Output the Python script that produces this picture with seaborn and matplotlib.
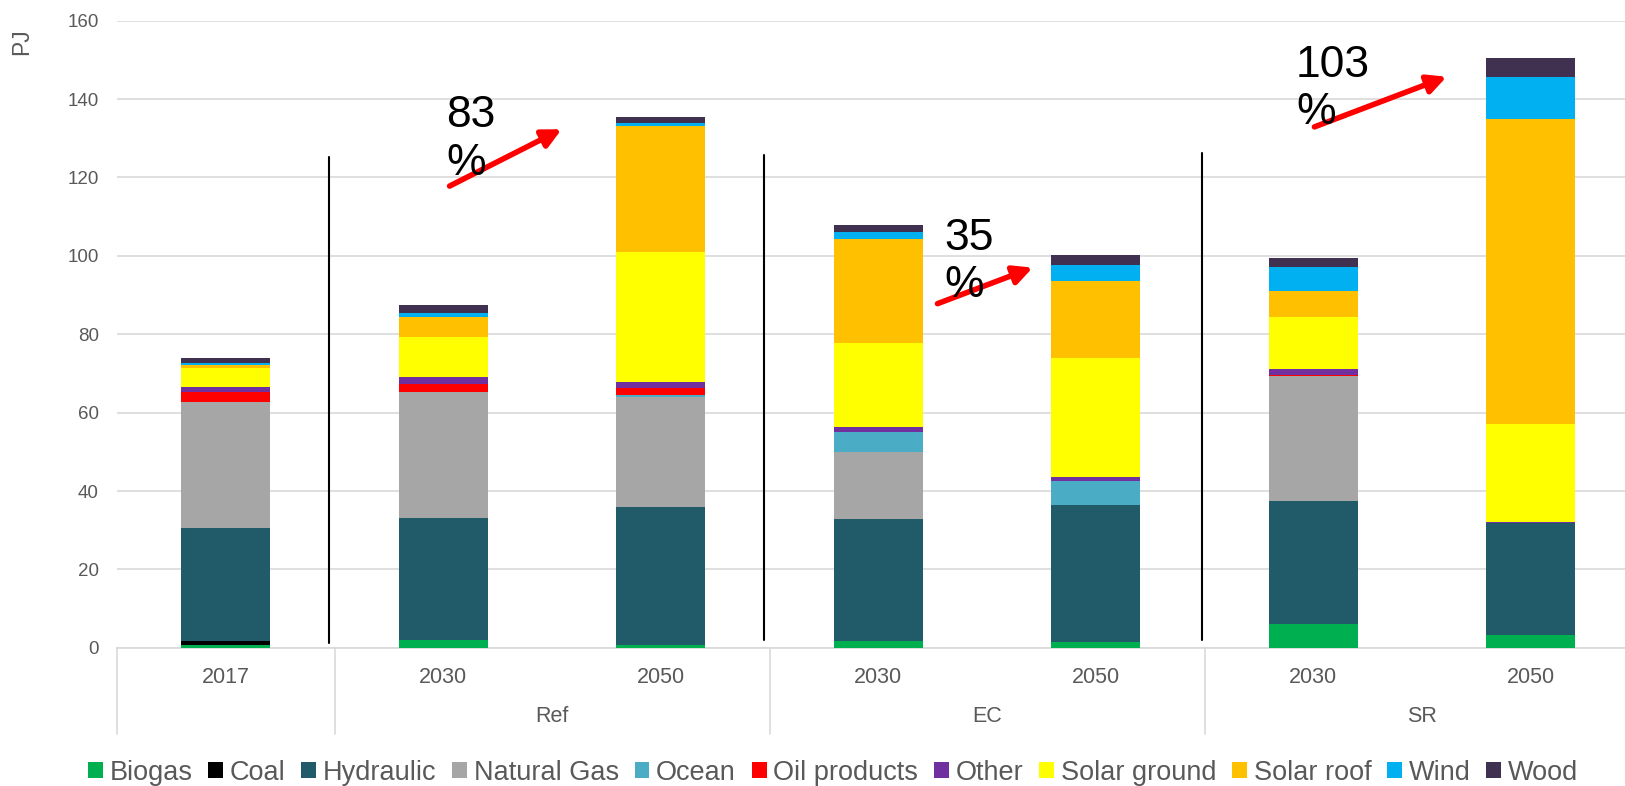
import numpy as np
import pandas as pd
import matplotlib
matplotlib.use("Agg")
import matplotlib.pyplot as plt
import matplotlib.transforms as mtransforms
from matplotlib.patches import Patch
import seaborn as sns

# ---------------- data ----------------
categories = ["2017", "Ref 2030", "Ref 2050", "EC 2030", "EC 2050", "SR 2030", "SR 2050"]
year_labels = ["2017", "2030", "2050", "2030", "2050", "2030", "2050"]
scenario_labels = ["Ref", "EC", "SR"]
scenario_centers = [1.5, 3.5, 5.5]

series_names = ["Biogas", "Coal", "Hydraulic", "Natural Gas", "Ocean", "Oil products",
                "Other", "Solar ground", "Solar roof", "Wind", "Wood"]
biogas       = [0.8, 2.1, 0.7, 1.8, 1.4, 6.0, 3.2]
coal         = [1.0, 0.0, 0.0, 0.0, 0.0, 0.0, 0.0]
hydraulic    = [28.7, 31.0, 35.1, 31.1, 35.0, 31.4, 28.6]
natural_gas  = [32.2, 32.2, 28.3, 17.0, 0.0, 32.0, 0.0]
ocean        = [0.0, 0.0, 0.3, 5.1, 6.1, 0.0, 0.0]
oil_products = [2.5, 1.9, 2.0, 0.0, 0.0, 0.2, 0.0]
other        = [1.3, 1.9, 1.4, 1.3, 1.2, 1.6, 0.4]
solar_ground = [4.9, 10.3, 33.2, 21.4, 30.3, 13.2, 24.8]
solar_roof   = [0.7, 5.0, 32.2, 26.7, 19.6, 6.7, 77.8]
wind         = [0.5, 1.0, 0.6, 1.6, 4.0, 6.0, 10.9]
wood         = [1.3, 2.0, 1.7, 1.8, 2.7, 2.3, 4.7]

series_values = [biogas, coal, hydraulic, natural_gas, ocean, oil_products,
                 other, solar_ground, solar_roof, wind, wood]
series_colors = ["#00B050", "#000000", "#215A69", "#A6A6A6", "#4BACC6", "#FF0000",
                 "#7030A0", "#FFFF00", "#FFC000", "#00B0F0", "#403151"]

growth_labels = ["83\n%", "35\n%", "103\n%"]

# ---------------- style ----------------
sns.set_theme(style="white")
plt.rcParams['font.family'] = ['Liberation Sans', 'DejaVu Sans']
TXT = "#595959"
GRID = "#D9D9D9"

fig = plt.figure(figsize=(16.25, 7.86), dpi=100)
ax = fig.add_axes([0.072, 0.1758, 0.937, 0.7979])

cum = np.zeros(len(categories))
for name, vals, col in zip(series_names, series_values, series_colors):
    vals = np.asarray(vals, dtype=float)
    sns.barplot(x=categories, y=vals, order=categories, bottom=cum, color=col,
                width=0.41, saturation=1, errorbar=None, linewidth=0, ax=ax,
                zorder=3)
    cum = cum + vals

ax.set_ylim(0, 160)
ax.set_xlim(-0.5, len(categories) - 0.5)
ax.set_yticks(range(0, 161, 20))
ax.yaxis.grid(True, color=GRID, lw=1.2, zorder=0)
ax.xaxis.grid(False)
ax.set_axisbelow(True)
for s in ["left", "right", "top"]:
    ax.spines[s].set_visible(False)
ax.spines["bottom"].set_color(GRID)
ax.spines["bottom"].set_linewidth(1.2)
ax.tick_params(axis="y", length=0, pad=13, labelsize=13.5, labelcolor=TXT)
ax.set_xticks(range(len(categories)))
ax.set_xticklabels([""] * len(categories))
ax.tick_params(axis="x", length=0)
ax.set_xlabel("")
ax.set_ylabel("")

# multi-level category axis
blend = mtransforms.blended_transform_factory(ax.transData, ax.transAxes)
for b in [-0.5, 0.5, 2.5, 4.5, 6.5]:
    ax.plot([b, b], [0, -0.1375], transform=blend, clip_on=False, color=GRID, lw=1.2)
for i, y in enumerate(year_labels):
    ax.text(i, -0.0466, y, transform=blend, ha="center", va="center",
            fontsize=15.5, color=TXT)
for c, s in zip(scenario_centers, scenario_labels):
    ax.text(c, -0.110, s, transform=blend, ha="center", va="center",
            fontsize=15.5, color=TXT)

# scenario separators
for xs, y0, y1 in [(0.476, 1.3, 125.1), (2.476, 1.9, 125.7), (4.486, 2.1, 126.2)]:
    ax.plot([xs, xs], [y0, y1], color="black", lw=1.5, zorder=4)

# growth annotations
ann = [
    (growth_labels[0], (1.014, 141.0), (1.029, 117.8), (1.544, 132.3)),
    (growth_labels[1], (3.304, 109.7), (3.272, 87.8), (3.71, 97.0)),
    (growth_labels[2], (4.92, 153.8), (5.005, 132.9), (5.613, 145.7)),
]
for lbl, tpos, tail, head in ann:
    ax.annotate("", xy=head, xytext=tail,
                arrowprops=dict(arrowstyle="-|>", color="red", lw=4,
                                mutation_scale=28, shrinkA=0, shrinkB=0),
                zorder=5)
    ax.text(tpos[0], tpos[1], lbl, ha="left", va="top", fontsize=32,
            color="black", zorder=6, linespacing=1.2)

# y label
fig.text(22 / 1625, 1 - 42 / 786, "PJ", rotation=90, ha="center", va="center",
         fontsize=16.5, color=TXT)

# legend
handles = [Patch(facecolor=c, edgecolor="none") for c in series_colors]
fig.legend(handles, series_names, loc="center", bbox_to_anchor=(0.5126, 0.017),
           ncol=11, frameon=False, fontsize=19.5, handlelength=0.55,
           handleheight=0.55, handletextpad=0.25, columnspacing=0.58,
           labelcolor=TXT, borderaxespad=0, borderpad=0)

fig.savefig("out.png", dpi=100)
